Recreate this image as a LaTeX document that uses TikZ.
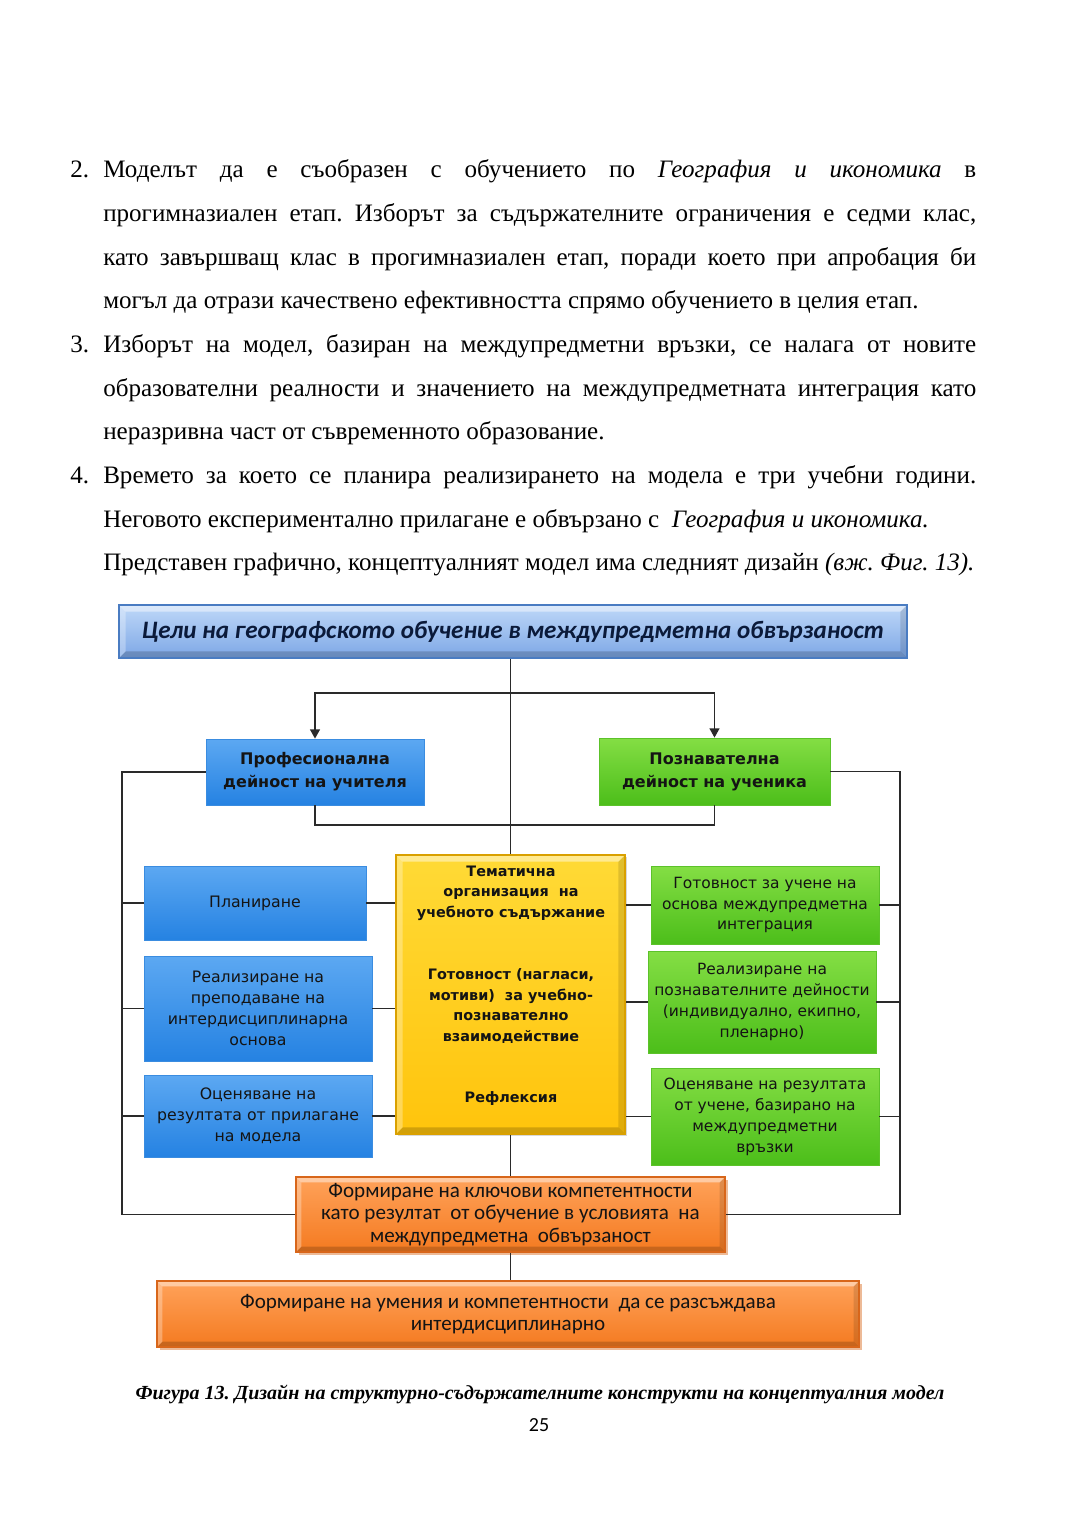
\documentclass[tikz,border=0pt]{standalone}
\usepackage{fontspec}
\setmainfont{Liberation Serif}
\newfontfamily\boxfont{DejaVu Sans}
\newfontfamily\califont{Carlito}
\usetikzlibrary{shadows,arrows.meta,calc}
\definecolor{txt}{HTML}{141414}
\definecolor{navy}{HTML}{0B1A3A}
\definecolor{lineC}{HTML}{2A2A2A}
\definecolor{titleT}{HTML}{BFD8F8}
\definecolor{titleB}{HTML}{7DA7E6}
\definecolor{titleD}{HTML}{4A7CC2}
\definecolor{blueT}{HTML}{5CA8F2}
\definecolor{blueB}{HTML}{2582E2}
\definecolor{blueD}{HTML}{3A8CE0}
\definecolor{greenT}{HTML}{84DE44}
\definecolor{greenB}{HTML}{4CBE1A}
\definecolor{greenD}{HTML}{5CC22A}
\definecolor{yelT}{HTML}{FFDA36}
\definecolor{yelB}{HTML}{FFC40C}
\definecolor{yelD}{HTML}{D9A000}
\definecolor{orT}{HTML}{FFA25A}
\definecolor{orB}{HTML}{F47A20}
\definecolor{orD}{HTML}{D8661A}
\tikzset{
  sz/.style 2 args={minimum width=#1*0.75pt, minimum height=#2*0.75pt},
  bevel/.style={path picture={
    \coordinate (pnw) at (path picture bounding box.north west);
    \coordinate (pne) at (path picture bounding box.north east);
    \coordinate (psw) at (path picture bounding box.south west);
    \coordinate (pse) at (path picture bounding box.south east);
    \fill[white,opacity=0.45] (pnw) -- (pne) -- ([shift={(-#1,-#1)}]pne) -- ([shift={(#1,-#1)}]pnw) -- cycle;
    \fill[white,opacity=0.3] (pnw) -- (psw) -- ([shift={(#1,#1)}]psw) -- ([shift={(#1,-#1)}]pnw) -- cycle;
    \fill[black,opacity=0.18] (psw) -- (pse) -- ([shift={(-#1,#1)}]pse) -- ([shift={(#1,#1)}]psw) -- cycle;
    \fill[black,opacity=0.12] (pne) -- (pse) -- ([shift={(-#1,#1)}]pse) -- ([shift={(-#1,-#1)}]pne) -- cycle;
  }},
  bodyline/.style={anchor=base west, inner sep=0pt, font=\fontsize{18.8}{22}\selectfont},
  boxbase/.style={inner sep=0pt, align=center, text=txt},
  titlebox/.style={boxbase, draw=titleD, line width=1.4pt, top color=titleT, bottom color=titleB, bevel=5pt,
     drop shadow={opacity=0.25, shadow xshift=1pt, shadow yshift=-1pt}},
  bluebox/.style={boxbase, draw=blueD, line width=0.6pt, top color=blueT, bottom color=blueB,
     font=\boxfont\fontsize{11.8}{15.7}\selectfont},
  greenbox/.style={boxbase, draw=greenD, line width=0.6pt, top color=greenT, bottom color=greenB,
     font=\boxfont\fontsize{11.6}{15.7}\selectfont},
  headbox/.style={font=\boxfont\bfseries\fontsize{12}{17.2}\selectfont},
  yelbox/.style={boxbase, draw=yelD, line width=1.2pt, top color=yelT, bottom color=yelB, bevel=5pt,
     drop shadow={opacity=0.3, shadow xshift=1.5pt, shadow yshift=-1.5pt}},
  yeltext/.style={inner sep=0pt, align=center, text=txt, font=\boxfont\bfseries\fontsize{10.8}{15.4}\selectfont},
  orbox/.style={boxbase, draw=orD, line width=1.2pt, top color=orT, bottom color=orB, bevel=4pt,
     font=\califont\fontsize{15.8}{16.9}\selectfont,
     drop shadow={fill=orD, opacity=0.45, shadow xshift=2pt, shadow yshift=-2pt}},
  conn/.style={draw=lineC, line width=1.1pt},
  arr/.style={conn, -{Triangle[length=7pt,width=7.5pt]}},
}
\begin{document}
\frenchspacing
\begin{tikzpicture}[x=0.75pt,y=-0.75pt]
\useasboundingbox[fill=white] (0,0) rectangle (1080,1527);

% ---------- body text ----------
\node[bodyline] (n2) at (70,177) {2.};
\node[bodyline] (l1) at (103,177) {\makebox[654.75pt][s]{Моделът да е съобразен с обучението по \textit{География и икономика} в}};
\node[bodyline] (l2) at (103,221) {\makebox[654.75pt][s]{прогимназиален етап. Изборът за съдържателните ограничения е седми клас,}};
\node[bodyline] (l3) at (103,265) {\makebox[654.75pt][s]{като завършващ клас в прогимназиален етап, поради което при апробация би}};
\node[bodyline] (l4) at (103,308) {могъл да отрази качествено ефективността спрямо обучението в целия етап.};
\node[bodyline] (n3) at (70,352) {3.};
\node[bodyline] (l5) at (103,352) {\makebox[654.75pt][s]{Изборът на модел, базиран на междупредметни връзки, се налага от новите}};
\node[bodyline] (l6) at (103,396) {\makebox[654.75pt][s]{образователни реалности и значението на междупредметната интеграция като}};
\node[bodyline] (l7) at (103,439) {неразривна част от съвременното образование.};
\node[bodyline] (n4) at (70,483) {4.};
\node[bodyline] (l8) at (103,483) {\makebox[654.75pt][s]{Времето за което се планира реализирането на модела е три учебни години.}};
\node[bodyline] (l9) at (103,527) {Неговото експериментално прилагане е обвързано с\ \ \textit{География и икономика.}};
\node[bodyline] (l10) at (103,570) {Представен графично, концептуалният модел има следният дизайн \textit{(вж. Фиг. 13).}};

% ---------- diagram boxes ----------
\node[titlebox, sz={788}{53}, text=navy,
  font=\califont\bfseries\itshape\fontsize{18.8}{20}\selectfont] (goal) at (513,631.5)
  {Цели на географското обучение в междупредметна обвързаност};

\node[bluebox, headbox, sz={218}{66}] (prof) at (315,772) {Професионална\\дейност на учителя};
\node[greenbox, headbox, sz={231}{67}] (pozn) at (714.5,771.5) {Познавателна\\дейност на ученика};

\node[bluebox, sz={222}{74}] (plan) at (255,903) {Планиране};
\node[bluebox, sz={228}{105}] (real) at (258,1008.5) {Реализиране на\\преподаване на\\интердисциплинарна\\основа};
\node[bluebox, sz={228}{82}] (ocen) at (258,1116) {Оценяване на\\резултата от прилагане\\на модела};

\node[yelbox, sz={229}{279}] (yel) at (510.5,994.5) {};
\node[yeltext] (y1) at (511,893) {Тематична\\организация\ \ на\\учебното съдържание};
\node[yeltext] (y2) at (511,1006) {Готовност (нагласи,\\мотиви)\ \ за учебно-\\познавателно\\взаимодействие};
\node[yeltext] (y3) at (511,1099) {Рефлексия};

\node[greenbox, sz={228}{78}] (gotv) at (765,905) {Готовност за учене на\\основа междупредметна\\интеграция};
\node[greenbox, sz={228}{102}] (rpoz) at (762,1002) {Реализиране на\\познавателните дейности\\(индивидуално, екипно,\\пленарно)};
\node[greenbox, sz={228}{97}] (ocuc) at (765,1116.5) {Оценяване на резултата\\от учене, базирано на\\междупредметни\\връзки};

\node[orbox, sz={429}{75}] (komp) at (510.5,1214.5) {Формиране на ключови компетентности\\като резултат\ \ от обучение в условията\ \ на\\междупредметна\ \ обвързаност};
\node[orbox, sz={702}{66}] (umen) at (508,1314) {Формиране на умения и компетентности\ \ да се разсъждава\\интердисциплинарно};

% ---------- connectors ----------
\coordinate (hub) at (511,693);
\coordinate (brk) at (511,825);
\coordinate (Lrail) at (122,1000);
\coordinate (Rrail) at (900,1000);

\draw[conn] (goal.south -| yel.north) -- (yel.north);
\draw[conn] (yel.south) -- (komp.north);
\draw[conn] (komp.south) -- (komp.south |- umen.north);
\draw[arr] (hub) -| (prof.north);
\draw[arr] (hub) -| (pozn.north);
\draw[conn] (prof.south) |- (brk) -| (pozn.south);

\draw[conn] (prof.west) -| (Lrail) |- (komp.west);
\draw[conn] (pozn.east) -| (Rrail) |- (komp.east);

\foreach \b in {plan,real,ocen}{
  \draw[conn] (\b.west) -- (\b.west -| Lrail);
  \draw[conn] (\b.east) -- (\b.east -| yel.west);
}
\foreach \b in {gotv,rpoz,ocuc}{
  \draw[conn] (\b.east) -- (\b.east -| Rrail);
  \draw[conn] (\b.west) -- (\b.west -| yel.east);
}

% ---------- caption ----------
\node[anchor=base, inner sep=0pt, font=\bfseries\itshape\fontsize{15}{16}\selectfont] (cap) at (540,1399)
  {Фигура 13. Дизайн на структурно-съдържателните конструкти на концептуалния модел};
\node[anchor=base, inner sep=0pt, font=\califont\fontsize{15}{16}\selectfont] (pg) at (539,1431) {25};
\end{tikzpicture}
\end{document}
